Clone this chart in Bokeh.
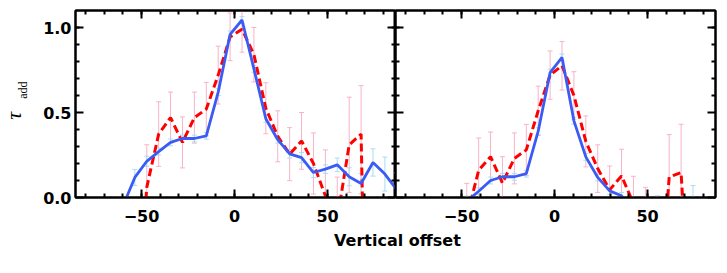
import math
from bokeh.plotting import figure
from bokeh.layouts import column, row
from bokeh.models import Range1d, LinearAxis, FixedTicker, Label, CustomLabelingPolicy
from bokeh.embed import file_html
from bokeh.resources import INLINE

# ---------------- data ----------------
offset = [-60.0, -53.6, -47.2, -40.8, -34.4, -28.0, -21.6, -15.2, -8.8, -2.4, 4.0, 10.4,
          16.8, 23.2, 29.6, 36.0, 42.4, 48.8, 55.2, 61.6, 68.0, 74.4, 80.8, 87.2]

left_blue = [-0.05, 0.118, 0.213, 0.27, 0.324, 0.347, 0.347, 0.363, 0.62, 0.96, 1.044, 0.757,
             0.463, 0.34, 0.257, 0.235, 0.147, 0.167, 0.192, 0.122, 0.082, 0.206, 0.138, 0.045]
left_blue_err = [0.03, 0.047, 0.03, 0.02, 0.02, 0.02, 0.02, 0.02, 0.02, 0.02, 0.02, 0.02,
                 0.02, 0.02, 0.025, 0.03, 0.03, 0.025, 0.04, 0.053, 0.06, 0.08, 0.1, 0.1]
left_red = [-1.2, -1.0, 0.06, 0.373, 0.47, 0.324, 0.47, 0.52, 0.72, 0.945, 0.99, 0.84,
            0.525, 0.36, 0.255, 0.333, 0.2, 0.01, -0.13, 0.31, 0.373, -3.0, -3.0, -3.0]
left_red_err = [0.25, 0.25, 0.25, 0.19, 0.15, 0.15, 0.15, 0.157, 0.17, 0.14, 0.135, 0.16,
                0.15, 0.15, 0.156, 0.167, 0.18, 0.27, 0.25, 0.28, 0.285, 0.3, 0.3, 0.3]

right_blue = [-0.06, -0.05, -0.022, 0.037, 0.1, 0.122, 0.122, 0.14, 0.39, 0.735, 0.824, 0.451,
              0.239, 0.118, 0.039, 0.01, -0.1, -0.08, -0.06, -0.08, -0.07, -0.04, -0.06, -0.06]
right_blue_err = [0.03, 0.03, 0.03, 0.02, 0.02, 0.02, 0.02, 0.02, 0.02, 0.02, 0.02, 0.02,
                  0.02, 0.02, 0.02, 0.02, 0.05, 0.05, 0.07, 0.05, 0.05, 0.11, 0.05, 0.05]
right_red = [-1.0, -0.8, -0.117, 0.16, 0.24, 0.085, 0.23, 0.28, 0.51, 0.72, 0.775, 0.6,
             0.33, 0.17, 0.045, 0.127, -0.035, -0.1, -0.84, 0.12, 0.147, -1.03, -1.0, -1.0]
right_red_err = [0.2, 0.2, 0.2, 0.19, 0.145, 0.155, 0.15, 0.15, 0.145, 0.142, 0.143, 0.14,
                 0.15, 0.14, 0.14, 0.157, 0.16, 0.16, 0.2, 0.25, 0.284, 0.3, 0.3, 0.3]

x_major = [-50, 0, 50]
x_tick_labels = ["\u221250", "0", "50"]
x_minor = [-80, -70, -60, -50, -40, -30, -20, -10, 0, 10, 20, 30, 40, 50, 60, 70, 80]
y_major = [0.0, 0.5, 1.0]
y_tick_labels = ["0.0", "0.5", "1.0"]
y_minor = [0.1, 0.2, 0.3, 0.4, 0.6, 0.7, 0.8, 0.9, 1.0]

x_label = "Vertical offset"
y_label_main = "\u03c4"
y_label_sub = "add"

BLUE = "#3a5cf5"
RED = "#ff0000"
PINK = "#f7b3c8"
CYAN = "#a9dcf2"

XR = (-85.5, 86.5)
YR = (0.0, 1.1)
TICK_FONT = "DejaVu Sans"
H = 230

NO_LABELS = CustomLabelingPolicy(code="""
for (const i of indices) { indices.unset(i) }
return indices
""")


def style_axis(ax, ticker, labels=None, size=16, standoff=5):
    ax.ticker = ticker
    ax.axis_line_color = "black"
    ax.axis_line_width = 2
    ax.major_tick_in = 8
    ax.major_tick_out = 0
    ax.minor_tick_in = 4
    ax.minor_tick_out = 0
    ax.major_tick_line_width = 2
    ax.minor_tick_line_width = 2
    ax.major_tick_line_color = "black"
    ax.minor_tick_line_color = "black"
    if labels is None:
        ax.major_label_policy = NO_LABELS
        ax.major_label_text_font_size = "0px"
        ax.major_label_standoff = 0
    else:
        ax.major_label_overrides = labels
        ax.major_label_text_font = TICK_FONT
        ax.major_label_text_font_style = "bold"
        ax.major_label_text_font_size = f"{size}px"
        ax.major_label_text_color = "black"
        ax.major_label_standoff = standoff


def panel(blue, blue_err, red, red_err, width, bl, br, ylabels):
    p = figure(width=width, height=H, x_range=Range1d(*XR), y_range=Range1d(*YR),
               output_backend="svg", toolbar_location=None,
               min_border_left=bl, min_border_right=br, min_border_top=10, min_border_bottom=33)
    p.grid.visible = False
    p.outline_line_color = "black"
    p.outline_line_width = 2
    p.background_fill_color = "white"
    p.border_fill_color = "white"

    xt = FixedTicker(ticks=x_major, minor_ticks=x_minor)
    yt = FixedTicker(ticks=y_major, minor_ticks=y_minor)
    style_axis(p.xaxis[0], xt, dict(zip(x_major, x_tick_labels)), standoff=12)
    if ylabels:
        style_axis(p.yaxis[0], yt, dict(zip(y_major, y_tick_labels)), standoff=4)
    else:
        style_axis(p.yaxis[0], yt, None)
    top = LinearAxis()
    style_axis(top, FixedTicker(ticks=x_major, minor_ticks=x_minor), None)
    p.add_layout(top, "above")
    right = LinearAxis()
    style_axis(right, FixedTicker(ticks=y_major, minor_ticks=y_minor), None)
    p.add_layout(right, "right")

    # error bars
    for vals, errs, col in ((red, red_err, PINK), (blue, blue_err, CYAN)):
        lo = [v - e for v, e in zip(vals, errs)]
        hi = [v + e for v, e in zip(vals, errs)]
        p.segment(x0=offset, y0=lo, x1=offset, y1=hi, line_color=col, line_width=1)
        p.scatter(x=offset + offset, y=lo + hi, marker="dash", size=5,
                  line_color=col, line_width=1)

    p.line(offset, red, line_color=RED, line_width=3, line_dash="8 4")
    p.line(offset, blue, line_color=BLUE, line_width=2.8)
    return p


# narrow strip holding the rotated y label (no axes at all)
p0 = figure(width=35, height=H, x_range=Range1d(0, 35), y_range=Range1d(0, H),
            x_axis_type=None, y_axis_type=None,
            output_backend="svg", toolbar_location=None,
            min_border_left=0, min_border_right=0, min_border_top=0, min_border_bottom=0)
p0.grid.visible = False
p0.outline_line_color = None
p0.add_layout(Label(x=12.5, y=H - 129.5, text=y_label_main, angle=math.pi / 2,
                    text_font="Liberation Serif", text_font_style="italic",
                    text_font_size="22px", text_align="center", text_baseline="middle",
                    text_color="black"))
p0.add_layout(Label(x=22.5, y=H - 98, text=y_label_sub, angle=math.pi / 2,
                    text_font="Liberation Serif", text_font_size="12px",
                    text_align="center", text_baseline="middle", text_color="black"))

p1 = panel(left_blue, left_blue_err, left_red, left_red_err, 360, 40, 0, True)
p2 = panel(right_blue, right_blue_err, right_red, right_red_err, 328, 0, 8, False)

p3 = figure(width=723, height=20, x_range=Range1d(0, 1), y_range=Range1d(0, 1),
            x_axis_type=None, y_axis_type=None,
            output_backend="svg", toolbar_location=None,
            min_border_left=0, min_border_right=0, min_border_top=0, min_border_bottom=0)
p3.grid.visible = False
p3.outline_line_color = None
p3.add_layout(Label(x=0.549, y=0.5, text=x_label, text_font="DejaVu Sans",
                    text_font_style="bold", text_font_size="16px",
                    text_align="center", text_baseline="middle", text_color="black"))

layout = column(row(p0, p1, p2), p3)
open("out.html", "w").write(file_html(layout, INLINE))
